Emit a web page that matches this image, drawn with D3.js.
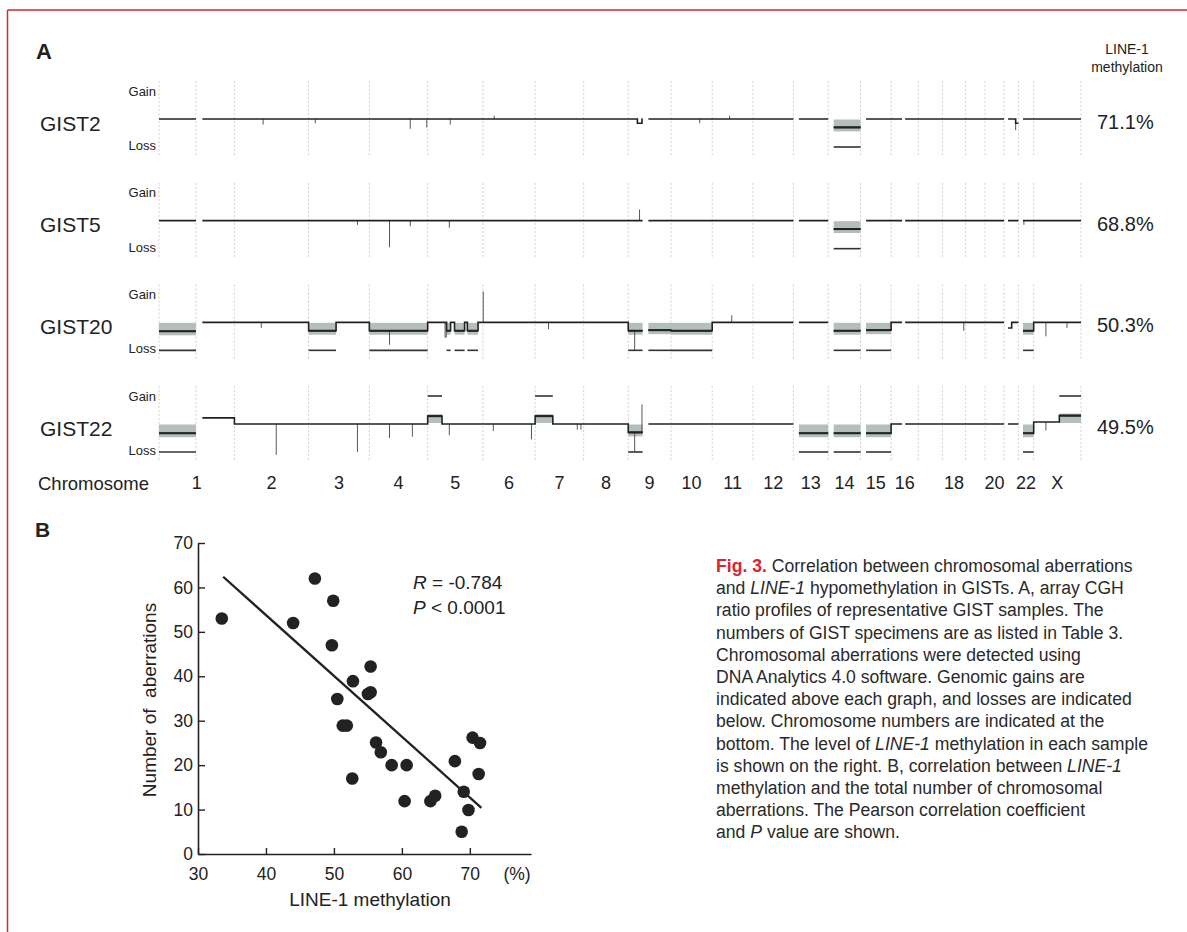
<!DOCTYPE html>
<html><head><meta charset="utf-8">
<script src="https://cdn.jsdelivr.net/npm/d3@7/dist/d3.min.js"></script>
<style>
html,body{margin:0;padding:0;background:#fff;}
svg{display:block;font-family:"Liberation Sans",Arial,Helvetica,sans-serif;}
</style></head><body>
<svg id="fig" width="1187" height="932"></svg>
<script>
// ---------------- DATA ----------------
const chromosomes = ["1","2","3","4","5","6","7","8","9","10","11","12","13","14","15","16","17","18","19","20","21","22","X"];
const chromLengthsMb = [247,243,199,191,181,171,159,146,140,135,134,132,114,106,100,89,79,76,64,62,47,50,155];
const chromTickLabels = ["1","2","3","4","5","6","7","8","9","10","11","12","13","14","15","16","18","20","22","X"];
const noProbeRegions = [
  {chr:"1",start:121,end:142},{chr:"9",start:47,end:66},{chr:"13",start:0,end:18},
  {chr:"14",start:0,end:18},{chr:"15",start:0,end:18},{chr:"16",start:36,end:46},
  {chr:"21",start:0,end:13},{chr:"22",start:0,end:15}
];
const samples = ["GIST2","GIST5","GIST20","GIST22"];
const line1Methylation = ["71.1%","68.8%","50.3%","49.5%"];

const gist2Segments = [
  {chr:"9",start:30,end:45,level:-0.15,call:false},
  {chr:"14",start:18,end:106,level:-0.3,call:true},
  {chr:"21",start:38,end:47,level:-0.15,call:false}
];
const gist5Segments = [
  {chr:"14",start:18,end:106,level:-0.3,call:true}
];
const gist20Segments = [
  {chr:"1",start:0,end:121,level:-0.32,call:true},
  {chr:"3",start:0,end:90,level:-0.3,call:true},
  {chr:"4",start:0,end:191,level:-0.3,call:true},
  {chr:"5",start:62,end:75,level:-0.3,call:true},
  {chr:"5",start:88,end:121,level:-0.3,call:true},
  {chr:"5",start:130,end:165,level:-0.3,call:true},
  {chr:"9",start:0,end:47,level:-0.3,call:true},
  {chr:"9",start:66,end:140,level:-0.28,call:true},
  {chr:"10",start:0,end:135,level:-0.3,call:true},
  {chr:"14",start:18,end:106,level:-0.3,call:true},
  {chr:"15",start:18,end:100,level:-0.28,call:true},
  {chr:"21",start:13,end:25,level:-0.2,call:false},
  {chr:"22",start:15,end:50,level:-0.3,call:true}
];
const gist22Segments = [
  {chr:"1",start:0,end:121,level:-0.33,call:true},
  {chr:"1",start:142,end:247,level:0.22,call:false},
  {chr:"5",start:0,end:47,level:0.28,call:true},
  {chr:"7",start:0,end:58,level:0.28,call:true},
  {chr:"9",start:0,end:47,level:-0.3,call:true},
  {chr:"13",start:18,end:114,level:-0.33,call:true},
  {chr:"14",start:18,end:106,level:-0.33,call:true},
  {chr:"15",start:18,end:100,level:-0.33,call:true},
  {chr:"22",start:15,end:50,level:-0.33,call:true},
  {chr:"X",start:0,end:84,level:0.07,call:false},
  {chr:"X",start:84,end:155,level:0.3,call:true}
];
const gist2Spikes = [
  {chr:"2",pos:94,depth:-0.2},{chr:"3",pos:22,depth:-0.15},{chr:"4",pos:134,depth:-0.35},
  {chr:"4",pos:188,depth:-0.3},{chr:"5",pos:74,depth:-0.2},{chr:"6",pos:37,depth:0.12},
  {chr:"10",pos:94,depth:-0.15},{chr:"11",pos:57,depth:0.12},{chr:"21",pos:38,depth:-0.25}
];
const gist5Spikes = [
  {chr:"3",pos:160,depth:-0.15},{chr:"4",pos:66,depth:-0.95},{chr:"4",pos:134,depth:-0.2},
  {chr:"5",pos:71,depth:-0.25},{chr:"9",pos:37,depth:0.4},{chr:"22",pos:18,depth:-0.15}
];
const gist20Spikes = [
  {chr:"2",pos:88,depth:-0.2},{chr:"4",pos:66,depth:-0.5},{chr:"5",pos:57,depth:-0.55},
  {chr:"5",pos:61,depth:-0.55},{chr:"6",pos:1,depth:1.1},{chr:"7",pos:44,depth:-0.25},
  {chr:"9",pos:21,depth:-0.7},{chr:"11",pos:64,depth:0.25},{chr:"18",pos:70,depth:-0.3},
  {chr:"X",pos:40,depth:-0.5},{chr:"X",pos:109,depth:-0.2}
];
const gist22Spikes = [
  {chr:"2",pos:137,depth:-1.1},{chr:"3",pos:160,depth:-1.0},{chr:"4",pos:66,depth:-0.5},
  {chr:"4",pos:141,depth:-0.45},{chr:"5",pos:71,depth:-0.4},{chr:"6",pos:34,depth:-0.25},
  {chr:"6",pos:159,depth:-0.55},{chr:"7",pos:138,depth:-0.2},{chr:"7",pos:150,depth:-0.2},
  {chr:"9",pos:21,depth:-0.7},{chr:"9",pos:45,depth:1.0},{chr:"X",pos:40,depth:-0.3}
];

const scatterMethylation = [33.5,47.2,44.0,49.9,49.7,55.4,52.8,55.0,55.4,50.5,51.3,51.9,56.2,56.9,58.5,60.7,52.7,60.4,64.2,64.9,67.8,69.1,69.8,68.8,70.4,71.5,71.3];
const scatterAberrations = [53,62,52,57,47,42.2,38.9,36,36.4,34.9,28.9,28.9,25.1,22.9,20,20,17,11.9,11.9,13.1,20.9,14,9.9,5,26.2,25,18];
const fitLineEnds = [[33.7,62.4],[71.7,10.4]];
const xTicks = [30,40,50,60,70];
const yTicks = [0,10,20,30,40,50,60,70];
const statLabels = [["R"," = -0.784"],["P"," < 0.0001"]];

// ---------------- DRAW ----------------
const svg = d3.select("#fig");
const ink = "#222";
const red = "#d7262d";

// frame
svg.append("line").attr("x1",7.5).attr("x2",1187).attr("y1",10).attr("y2",10).attr("stroke",red).attr("stroke-width",1.5);
svg.append("line").attr("x1",7.5).attr("x2",7.5).attr("y1",10).attr("y2",932).attr("stroke",red).attr("stroke-width",1.5);

// Panel letters
svg.append("text").attr("x",36).attr("y",59).attr("font-size",22).attr("font-weight","bold").attr("fill",ink).text("A");
svg.append("text").attr("x",35).attr("y",537).attr("font-size",21).attr("font-weight","bold").attr("fill",ink).text("B");

// ---- Panel A ----
const offsets = {}; let acc = 0;
chromosomes.forEach((c,i)=>{ offsets[c]=acc; acc+=chromLengthsMb[i]; });
const genomeLength = acc;
const gx = d3.scaleLinear().domain([0,genomeLength]).range([159,1081]);
const rowY = d3.scalePoint().domain(samples).range([119,424]);
const segSets = [gist2Segments,gist5Segments,gist20Segments,gist22Segments];
const spikeSets = [gist2Spikes,gist5Spikes,gist20Spikes,gist22Spikes];

function levelAt(segs,chr,pos){
  const s = segs.find(s=>s.chr===chr && pos>=s.start && pos<=s.end);
  return s? s.level : 0;
}
function buildProfile(segs){
  const pts=[];
  chromosomes.forEach((c,i)=>{
    const L=chromLengthsMb[i];
    const cuts=new Set([0,L]);
    segs.filter(s=>s.chr===c).forEach(s=>{cuts.add(s.start);cuts.add(s.end);});
    noProbeRegions.filter(r=>r.chr===c).forEach(r=>{cuts.add(r.start);cuts.add(r.end);});
    const arr=[...cuts].sort((a,b)=>a-b);
    for(let k=0;k<arr.length-1;k++){
      const a=arr[k], b=arr[k+1], m=(a+b)/2;
      if(b<=a) continue;
      if(noProbeRegions.some(r=>r.chr===c && m>r.start && m<r.end)){ pts.push(null); continue; }
      const v=levelAt(segs,c,m);
      pts.push({g:offsets[c]+a,v:v},{g:offsets[c]+b,v:v});
    }
  });
  return pts;
}
const boundaries = chromosomes.map(c=>offsets[c]).concat([genomeLength, offsets["1"]+121]);

samples.forEach((s,i)=>{
  const base = rowY(s);
  const ry = d3.scaleLinear().domain([-1,1]).range([base+28,base-28]);
  const g = svg.append("g");
  g.selectAll("line.guide").data(boundaries).join("line").attr("class","guide")
    .attr("x1",d=>gx(d)).attr("x2",d=>gx(d)).attr("y1",ry(1.35)).attr("y2",ry(-1.35))
    .attr("stroke","#c4c4c4").attr("stroke-width",0.8).attr("stroke-dasharray","2,2");
  const segs = segSets[i];
  const called = segs.filter(d=>d.call);
  g.selectAll("rect.band").data(called).join("rect").attr("class","band")
    .attr("x",d=>gx(offsets[d.chr]+d.start)).attr("width",d=>gx(offsets[d.chr]+d.end)-gx(offsets[d.chr]+d.start))
    .attr("y",d=> d.level<0 ? ry(0)+0.5 : ry(d.level)-2)
    .attr("height",d=> d.level<0 ? (ry(d.level)+3.5-ry(0)) : (ry(0)-1-ry(d.level)+2))
    .attr("fill","#b4bfba");
  g.selectAll("line.bar").data(called).join("line").attr("class","bar")
    .attr("x1",d=>gx(offsets[d.chr]+d.start)).attr("x2",d=>gx(offsets[d.chr]+d.end))
    .attr("y1",d=>ry(d.level<0?-1:1)).attr("y2",d=>ry(d.level<0?-1:1))
    .attr("stroke","#333").attr("stroke-width",1.6);
  g.selectAll("line.spike").data(spikeSets[i]).join("line").attr("class","spike")
    .attr("x1",d=>gx(offsets[d.chr]+d.pos)).attr("x2",d=>gx(offsets[d.chr]+d.pos))
    .attr("y1",d=>ry(levelAt(segs,d.chr,d.pos))).attr("y2",d=>ry(levelAt(segs,d.chr,d.pos)+d.depth))
    .attr("stroke","#444").attr("stroke-width",0.9);
  const line = d3.line().defined(d=>d!==null).x(d=>gx(d.g)).y(d=>ry(d.v));
  g.append("path").datum(buildProfile(segs)).attr("d",line)
    .attr("fill","none").attr("stroke",ink).attr("stroke-width",1.6);
  g.selectAll("line.segl").data(called).join("line").attr("class","segl")
    .attr("x1",d=>gx(offsets[d.chr]+d.start)).attr("x2",d=>gx(offsets[d.chr]+d.end))
    .attr("y1",d=>ry(d.level)).attr("y2",d=>ry(d.level))
    .attr("stroke",ink).attr("stroke-width",2);
  g.append("text").attr("x",40).attr("y",base+4).attr("dominant-baseline","central")
    .attr("font-size",21).attr("fill",ink).text(s);
  g.append("text").attr("x",156).attr("y",ry(1)).attr("dominant-baseline","central").attr("text-anchor","end")
    .attr("font-size",13).attr("fill",ink).text("Gain");
  g.append("text").attr("x",156).attr("y",ry(-0.95)).attr("dominant-baseline","central").attr("text-anchor","end")
    .attr("font-size",13).attr("fill",ink).text("Loss");
  g.append("text").attr("x",1097).attr("y",base+3).attr("dominant-baseline","central")
    .attr("font-size",20).attr("fill",ink).text(line1Methylation[i]);
});
svg.append("text").attr("x",1127).attr("y",49).attr("dominant-baseline","central").attr("text-anchor","middle")
  .attr("font-size",14).attr("fill",ink).text("LINE-1");
svg.append("text").attr("x",1127).attr("y",67).attr("dominant-baseline","central").attr("text-anchor","middle")
  .attr("font-size",14).attr("fill",ink).text("methylation");
svg.append("text").attr("x",38).attr("y",483).attr("dominant-baseline","central")
  .attr("font-size",18.5).attr("fill",ink).text("Chromosome");
svg.selectAll("text.chr").data(chromTickLabels).join("text").attr("class","chr")
  .attr("x",c=>gx(offsets[c]+chromLengthsMb[chromosomes.indexOf(c)]/2)).attr("y",483)
  .attr("dominant-baseline","central").attr("text-anchor","middle")
  .attr("font-size",18).attr("fill",ink).text(c=>c);

// ---- Panel B ----
const x = d3.scaleLinear().domain([30,79]).range([198,531]);
const y = d3.scaleLinear().domain([0,70]).range([854,543]);
const fs = 17.5;
const xAxis = svg.append("g").attr("transform",`translate(0,${y(0)})`)
  .call(d3.axisBottom(x).tickValues(xTicks).tickSize(-6).tickPadding(14).tickSizeOuter(0).tickFormat(d3.format("d")));
const yAxis = svg.append("g").attr("transform",`translate(${x(30)},0)`)
  .call(d3.axisLeft(y).tickValues(yTicks).tickSize(-7).tickPadding(5).tickSizeOuter(0).tickFormat(d3.format("d")));
[xAxis,yAxis].forEach(a=>{
  a.selectAll("path.domain").attr("stroke",ink).attr("stroke-width",1.6);
  a.selectAll(".tick line").attr("stroke",ink).attr("stroke-width",1.4);
  a.selectAll("text").attr("font-size",fs).attr("fill",ink).attr("font-family","Liberation Sans, Arial, sans-serif");
});
svg.append("text").attr("x",517).attr("y",y(0)+14).attr("dy","0.71em").attr("text-anchor","middle")
  .attr("font-size",fs).attr("fill",ink).text("(%)");
svg.append("text").attr("x",370).attr("y",906).attr("text-anchor","middle")
  .attr("font-size",19).attr("fill",ink).text("LINE-1 methylation");
svg.append("text").attr("transform","translate(156,700) rotate(-90)").attr("text-anchor","middle")
  .attr("font-size",19).attr("fill",ink).style("white-space","pre").text("Number of  aberrations");

svg.append("path").datum(fitLineEnds)
  .attr("d",d3.line().x(d=>x(d[0])).y(d=>y(d[1])))
  .attr("stroke",ink).attr("stroke-width",2.3).attr("fill","none");
svg.selectAll("circle.pt").data(scatterMethylation).join("circle").attr("class","pt")
  .attr("cx",d=>x(d)).attr("cy",(d,i)=>y(scatterAberrations[i])).attr("r",6.3).attr("fill",ink);

statLabels.forEach((p,i)=>{
  const t = svg.append("text").attr("x",413).attr("y",589+i*25).attr("font-size",19).attr("fill",ink).style("white-space","pre");
  t.append("tspan").attr("font-style","italic").text(p[0]);
  t.append("tspan").text(p[1]);
});

// ---- Caption ----
const captionLines = [
  [["Fig. 3.","f"],[" Correlation between chromosomal aberrations",""]],
  [["and ",""],["LINE-1","i"],[" hypomethylation in GISTs. A, array CGH",""]],
  [["ratio profiles of representative GIST samples. The",""]],
  [["numbers of GIST specimens are as listed in Table 3.",""]],
  [["Chromosomal aberrations were detected using",""]],
  [["DNA Analytics 4.0 software. Genomic gains are",""]],
  [["indicated above each graph, and losses are indicated",""]],
  [["below. Chromosome numbers are indicated at the",""]],
  [["bottom. The level of ",""],["LINE-1","i"],[" methylation in each sample",""]],
  [["is shown on the right. B, correlation between ",""],["LINE-1","i"]],
  [["methylation and the total number of chromosomal",""]],
  [["aberrations. The Pearson correlation coefficient",""]],
  [["and ",""],["P","i"],[" value are shown.",""]]
];
captionLines.forEach((ln,i)=>{
  const t = svg.append("text").attr("x",716).attr("y",572+i*22.2).attr("font-size",17.6).attr("fill","#2a2a2a").style("white-space","pre");
  ln.forEach(([txt,st])=>{
    const sp = t.append("tspan").text(txt);
    if(st==="i") sp.attr("font-style","italic");
    if(st==="f") sp.attr("font-weight","bold").attr("fill",red);
  });
});
</script>
</body></html>
